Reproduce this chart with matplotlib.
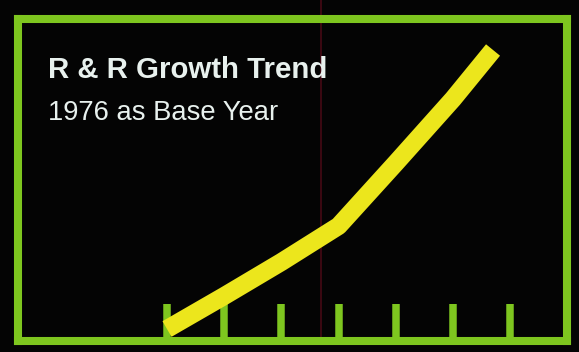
import matplotlib

matplotlib.use("Agg")

import matplotlib.pyplot as plt
from matplotlib.lines import Line2D

# growth index, 1976 = 100
YEARS = [1976, 1977, 1978, 1979, 1980, 1981, 1981.7]
INDEX = [100, 116.5, 133.5, 151.5, 183, 215, 239.5]
TICK_YEARS = [1976, 1977, 1978, 1979, 1980, 1981, 1982]

TITLE = "R & R Growth Trend"
SUBTITLE = "1976 as Base Year"

GREEN = "#7ec61f"
YELLOW = "#ece61c"
TEXT = "#e8f1ee"
BG = "#040404"

W, H = 579, 352


def main() -> None:
    fig = plt.figure(figsize=(W / 100, H / 100), dpi=100, facecolor=BG)
    # axes box sits on the centre of the green frame
    left, right, top, bottom = 18, 567, 19, 341
    ax = fig.add_axes([left / W, (H - bottom) / H, (right - left) / W, (bottom - top) / H])
    ax.set_facecolor(BG)

    ax.set_xlim(1973.395, 1982.993)
    ax.set_ylim(94.0, 255.0)

    for spine in ax.spines.values():
        spine.set_color(GREEN)
        spine.set_linewidth(5.8)

    ax.set_xticks(TICK_YEARS)
    ax.tick_params(axis="x", direction="in", length=26.5, width=5.4, color=GREEN,
                   labelbottom=False, top=False)
    ax.set_yticks([])

    # faint red streak in the print, kept behind the trend line
    streak = Line2D([321 / W, 321 / W], [(H - bottom) / H, 1.0], transform=fig.transFigure,
                    color="#3c0912", lw=1.4, zorder=1, clip_on=False)
    ax.add_line(streak)

    ax.plot(YEARS, INDEX, color=YELLOW, lw=13, solid_capstyle="butt",
            solid_joinstyle="round", zorder=5, clip_on=False)

    fig.text(48 / W, 1 - 78 / H, TITLE, color=TEXT, fontsize=21.2, fontweight="bold",
             family="Liberation Sans", ha="left", va="baseline")
    fig.text(48 / W, 1 - 120 / H, SUBTITLE, color=TEXT, fontsize=19.7,
             family="Liberation Sans", ha="left", va="baseline")

    fig.savefig("out.png", dpi=100, facecolor=BG)
    plt.close(fig)


if __name__ == "__main__":
    main()
